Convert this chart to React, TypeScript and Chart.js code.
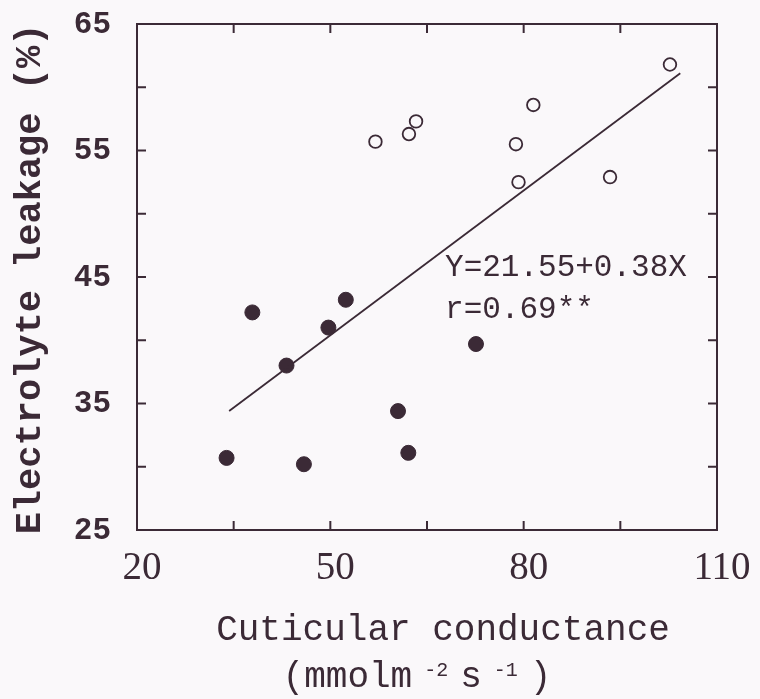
import React, { useEffect, useRef } from "react";
import { Chart, registerables } from "chart.js";

Chart.register(...registerables);

// ---- data ----
const filledX = [33.9, 37.9, 43.2, 45.9, 49.7, 52.4, 60.5, 62.1, 72.6];
const filledY = [30.7, 42.2, 38.0, 30.2, 41.0, 43.2, 34.4, 31.1, 39.7];
const openX = [57.0, 62.2, 63.3, 78.8, 79.2, 81.5, 93.4, 102.7];
const openY = [55.7, 56.3, 57.3, 55.5, 52.5, 58.6, 52.9, 61.8];
const fitX = [34.3, 104.3];
const fitY = [34.4, 61.1];
const xTickLabels = [20, 50, 80, 110];
const yTickLabels = [25, 35, 45, 55, 65];
const xRange = [20, 110];
const yRange = [25, 65];
const xMinorStep = 15;
const yMinorStep = 5;
const equationText = "Y=21.55+0.38X";
const rText = "r=0.69**";
const equationPos = [67.8, 45.7];
const rPos = [67.8, 42.4];
const yTitle = "Electrolyte leakage (%)";
const xTitle = "Cuticular conductance";
const xUnitParts = ["(mmolm", "-2", "s", "-1", ")"];

const INK = "#3b2a36";
const BG = "#faf8fa";
const MONO = "'Liberation Mono', 'DejaVu Sans Mono', monospace";
const SERIF = "'Liberation Serif', 'DejaVu Serif', serif";

const framePlugin = {
  id: "frame",
  beforeDraw(chart: any) {
    const ctx = chart.ctx;
    ctx.save();
    ctx.fillStyle = BG;
    ctx.fillRect(0, 0, chart.width, chart.height);
    ctx.restore();
  },
  afterDraw(chart: any) {
    const ctx = chart.ctx;
    const { left, right, top, bottom } = chart.chartArea;
    const xs = chart.scales.x;
    const ys = chart.scales.y;
    ctx.save();
    ctx.strokeStyle = INK;
    ctx.lineWidth = 2;
    ctx.strokeRect(left, top, right - left, bottom - top);
    const tl = 9;
    ctx.beginPath();
    for (let v = xRange[0] + xMinorStep; v < xRange[1]; v += xMinorStep) {
      const px = xs.getPixelForValue(v);
      ctx.moveTo(px, bottom);
      ctx.lineTo(px, bottom - tl);
      ctx.moveTo(px, top);
      ctx.lineTo(px, top + tl);
    }
    for (let v = yRange[0] + yMinorStep; v < yRange[1]; v += yMinorStep) {
      const py = ys.getPixelForValue(v);
      ctx.moveTo(left, py);
      ctx.lineTo(left + tl, py);
      ctx.moveTo(right, py);
      ctx.lineTo(right - tl, py);
    }
    ctx.stroke();

    // annotation
    ctx.fillStyle = INK;
    ctx.font = `31px ${MONO}`;
    ctx.textAlign = "left";
    ctx.textBaseline = "middle";
    ctx.fillText(equationText, xs.getPixelForValue(equationPos[0]), ys.getPixelForValue(equationPos[1]));
    ctx.fillText(rText, xs.getPixelForValue(rPos[0]), ys.getPixelForValue(rPos[1]));

    // y title
    ctx.save();
    ctx.translate(31, 279);
    ctx.rotate(-Math.PI / 2);
    ctx.font = `bold 37px ${MONO}`;
    ctx.textAlign = "center";
    ctx.textBaseline = "middle";
    ctx.fillText(yTitle, 0, 0);
    ctx.restore();

    // x title
    const cx = (left + right) / 2 + 16;
    ctx.font = `36px ${MONO}`;
    ctx.textAlign = "center";
    ctx.textBaseline = "middle";
    ctx.fillText(xTitle, cx, 630);

    // unit line
    const big = `36px ${MONO}`;
    const small = `20px ${MONO}`;
    const parts = xUnitParts.map((t, i) => ({ t, sup: i % 2 === 1 }));
    const gap = 12;
    let total = 0;
    parts.forEach((p) => {
      ctx.font = p.sup ? small : big;
      total += ctx.measureText(p.t).width + gap;
    });
    total -= gap;
    let x = 417 - total / 2;
    ctx.textAlign = "left";
    ctx.textBaseline = "alphabetic";
    parts.forEach((p) => {
      ctx.font = p.sup ? small : big;
      ctx.fillText(p.t, x, p.sup ? 676 : 687);
      x += ctx.measureText(p.t).width + gap;
    });
    ctx.restore();
  },
};

export default function App() {
  const ref = useRef<HTMLCanvasElement | null>(null);
  useEffect(() => {
    if (!ref.current) return;
    const chart = new Chart(ref.current, {
      type: "scatter",
      data: {
        datasets: [
          {
            type: "line",
            data: fitX.map((x, i) => ({ x, y: fitY[i] })),
            borderColor: INK,
            borderWidth: 1.8,
            pointRadius: 0,
            fill: false,
          } as any,
          {
            data: filledX.map((x, i) => ({ x, y: filledY[i] })),
            pointRadius: 7.5,
            pointBackgroundColor: INK,
            pointBorderColor: INK,
            pointBorderWidth: 1,
          },
          {
            data: openX.map((x, i) => ({ x, y: openY[i] })),
            pointRadius: 6.3,
            pointBackgroundColor: "rgba(0,0,0,0)",
            pointBorderColor: INK,
            pointBorderWidth: 1.8,
          },
        ],
      },
      options: {
        responsive: false,
        animation: false,
        devicePixelRatio: 1,
        layout: { padding: { left: 0, top: 24, right: 43, bottom: 0 } },
        plugins: { legend: { display: false }, tooltip: { enabled: false } },
        scales: {
          x: {
            type: "linear",
            min: xRange[0],
            max: xRange[1],
            afterFit: (s: any) => {
              s.height = 699 - 530;
              s.paddingLeft = 0;
              s.paddingRight = 0;
              s.paddingTop = 0;
              s.paddingBottom = 0;
            },
            grid: { display: false, drawTicks: false },
            border: { display: false },
            ticks: {
              stepSize: xMinorStep,
              autoSkip: false,
              maxRotation: 0,
              padding: 15,
              labelOffset: 5,
              color: INK,
              font: { family: SERIF, size: 39 },
              callback: (v: any) => (xTickLabels.includes(Number(v)) ? String(v) : ""),
            },
          },
          y: {
            type: "linear",
            min: yRange[0],
            max: yRange[1],
            afterFit: (s: any) => {
              s.width = 137;
              s.paddingLeft = 0;
              s.paddingRight = 0;
              s.paddingTop = 0;
              s.paddingBottom = 0;
            },
            grid: { display: false, drawTicks: false },
            border: { display: false },
            ticks: {
              stepSize: yMinorStep,
              autoSkip: false,
              padding: 26,
              labelOffset: 1,
              color: INK,
              font: { family: MONO, size: 31, weight: "bold" },
              callback: (v: any) => (yTickLabels.includes(Number(v)) ? String(v) : ""),
            },
          },
        },
      },
      plugins: [framePlugin],
    });
    return () => chart.destroy();
  }, []);
  return (
    <div style={{ position: "fixed", left: 0, top: 0, width: 760, height: 699 }}>
      <canvas ref={ref} width={760} height={699} style={{ display: "block" }} />
    </div>
  );
}
